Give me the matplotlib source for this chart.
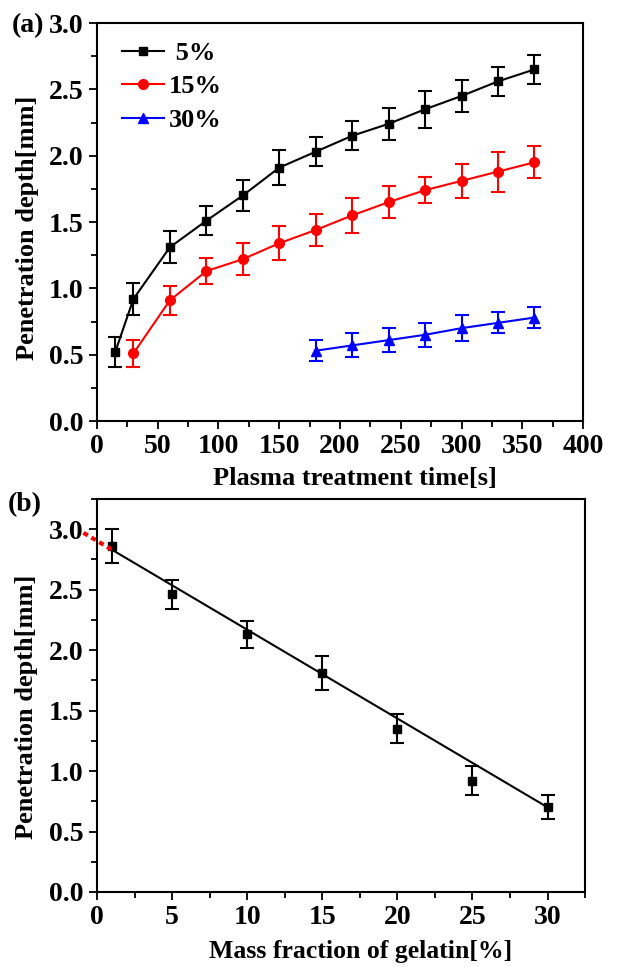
import matplotlib
matplotlib.use("Agg")
import matplotlib.pyplot as plt
from matplotlib.ticker import MultipleLocator, FormatStrFormatter

plt.rcParams["font.family"] = ["Liberation Serif", "DejaVu Serif"]
plt.rcParams["font.weight"] = "bold"

# (a) penetration depth vs plasma treatment time, one series per gelatin fraction
t_5 = [15, 30, 60, 90, 120, 150, 180, 210, 240, 270, 300, 330, 360]
depth_5 = [0.52, 0.92, 1.31, 1.51, 1.70, 1.91, 2.03, 2.15, 2.24, 2.35, 2.45, 2.56, 2.65]
err_5 = [0.11, 0.12, 0.12, 0.11, 0.12, 0.13, 0.11, 0.11, 0.12, 0.14, 0.12, 0.11, 0.11]

t_15 = [30, 60, 90, 120, 150, 180, 210, 240, 270, 300, 330, 360]
depth_15 = [0.51, 0.91, 1.13, 1.22, 1.34, 1.44, 1.55, 1.65, 1.74, 1.81, 1.88, 1.95]
err_15 = [0.10, 0.11, 0.10, 0.12, 0.13, 0.12, 0.13, 0.12, 0.10, 0.13, 0.15, 0.12]

t_30 = [180, 210, 240, 270, 300, 330, 360]
depth_30 = [0.53, 0.57, 0.61, 0.65, 0.70, 0.74, 0.78]
err_30 = [0.08, 0.09, 0.09, 0.09, 0.10, 0.08, 0.08]

# (b) penetration depth vs mass fraction of gelatin
frac = [1, 5, 10, 15, 20, 25, 30]
depth_b = [2.86, 2.46, 2.13, 1.81, 1.35, 0.92, 0.70]
err_b = [0.14, 0.12, 0.11, 0.14, 0.12, 0.12, 0.10]

fit_x = [1, 30]
fit_y = [2.83, 0.70]
extra_x = [-0.9, 1]
extra_y = [2.97, 2.83]

fig = plt.figure(figsize=(6.36, 9.67), dpi=100)
ax1 = fig.add_axes([0.1525, 0.5646, 0.7642, 0.4116])
ax2 = fig.add_axes([0.1525, 0.0776, 0.7675, 0.4064])

eb = dict(fmt="none", capsize=5, elinewidth=1.5, capthick=1.5)
series = [(t_5, depth_5, err_5, "black", "s", 6, " 5%"),
          (t_15, depth_15, err_15, "red", "o", 7, "15%"),
          (t_30, depth_30, err_30, "blue", "^", 7, "30%")]
for x, y, e, c, m, ms, lab in series:
    ax1.errorbar(x, y, yerr=e, ecolor=c, **eb)
    ax1.plot(x, y, color=c, marker=m, ms=ms, lw=1.5, label=lab)
ax1.set_xlim(0, 400)
ax1.set_ylim(0, 3.0)
ax1.xaxis.set_major_locator(MultipleLocator(50))
ax1.xaxis.set_minor_locator(MultipleLocator(25))
ax1.yaxis.set_major_locator(MultipleLocator(0.5))
ax1.yaxis.set_minor_locator(MultipleLocator(0.25))
ax1.yaxis.set_major_formatter(FormatStrFormatter("%.1f"))
ax1.set_xlabel("Plasma treatment time[s]", fontsize=19, fontweight="bold")
ax1.set_ylabel("Penetration depth[mm]", fontsize=19, fontweight="bold")
ax1.xaxis.set_label_coords(0.531, -0.115)
ax1.yaxis.set_label_coords(-0.12, 0.485)
ax1.legend(loc="upper left", bbox_to_anchor=(0.013, 1.0), frameon=False, fontsize=19,
           handlelength=1.6, handletextpad=0.2, labelspacing=0.38, borderaxespad=0.3)

ax2.errorbar(frac, depth_b, yerr=err_b, ecolor="black", **eb)
ax2.plot(frac, depth_b, color="black", marker="s", ms=6, ls="none")
ax2.plot(fit_x, fit_y, color="black", lw=1.5)
ax2.plot(extra_x, extra_y, color="red", lw=3, ls=(0, (1.2, 1.0)), clip_on=False)
ax2.set_xlim(0, 32.5)
ax2.set_ylim(0, 3.25)
ax2.xaxis.set_major_locator(MultipleLocator(5))
ax2.xaxis.set_minor_locator(MultipleLocator(2.5))
ax2.yaxis.set_major_locator(MultipleLocator(0.5))
ax2.yaxis.set_minor_locator(MultipleLocator(0.25))
ax2.yaxis.set_major_formatter(FormatStrFormatter("%.1f"))
ax2.set_xlabel("Mass fraction of gelatin[%]", fontsize=18.5, fontweight="bold")
ax2.set_ylabel("Penetration depth[mm]", fontsize=19, fontweight="bold")
ax2.xaxis.set_label_coords(0.539, -0.123)
ax2.yaxis.set_label_coords(-0.12, 0.47)

for ax in (ax1, ax2):
    for s in ax.spines.values():
        s.set_linewidth(1.5)
    ax.tick_params(which="both", direction="out", top=False, right=False, width=1.3,
                   labelsize=20)
    ax.tick_params(which="major", length=6)
    ax.tick_params(which="minor", length=4)
    for lab in ax.get_xticklabels() + ax.get_yticklabels():
        lab.set_fontweight("bold")

fig.text(0.018, 0.974, "(a)", fontsize=20, fontweight="bold", va="center")
fig.text(0.012, 0.478, "(b)", fontsize=20, fontweight="bold", va="center")

fig.savefig("out.png", dpi=100)
